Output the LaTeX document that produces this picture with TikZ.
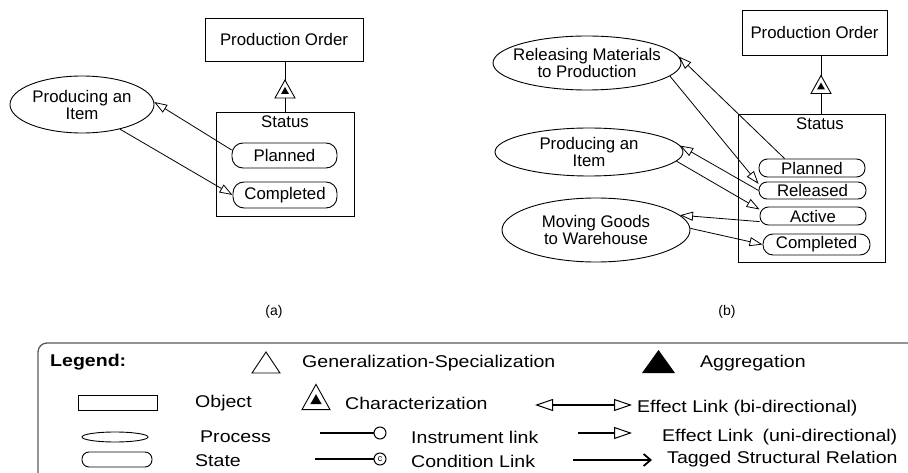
\documentclass[tikz,border=0pt]{standalone}
\usepackage{fontspec}
\setmainfont{Liberation Sans}
\newfontfamily\legfont[FakeStretch=1.15]{Liberation Sans}
\usetikzlibrary{arrows.meta,shapes.geometric,calc}

\begin{document}
\begin{tikzpicture}[x=1pt,y=-1pt,
  every node/.style={font=\fontsize{16.8}{17}\selectfont},
  obj/.style={draw, rectangle, inner sep=0pt, line width=0.9pt},
  stat/.style={draw, rectangle, inner sep=0pt, line width=0.9pt},
  proc/.style={draw, ellipse, inner sep=0pt, line width=0.9pt},
  ptext/.style={align=center, font=\fontsize{16.8}{17}\selectfont},
  effect/.style={line width=0.8pt, -{Triangle[open,length=13pt,width=9pt]}},
  lbl/.style={font=\legfont\fontsize{17}{19}\selectfont, anchor=west, inner sep=0pt},
  charsym/.pic={
    \draw[line width=0.9pt, fill=white] (-10,9) -- (0,-9) -- (10,9) -- cycle;
    \fill (-4,5) -- (0,-2) -- (4,5) -- cycle;
  }
]
\useasboundingbox (0,0) rectangle (908,473);

% ---------- (a) ----------
\node[obj, minimum width=158pt, minimum height=43pt] (poa) at (284,39.5) {Production Order};
\node[obj, minimum width=138pt, minimum height=104pt] (sta) at (285,164) {};
\node (sta-t) at (285,122) {Status};
\node[stat, rounded corners=11pt, minimum width=105pt, minimum height=25pt] (pla) at (284.5,155.5) {Planned};
\node[stat, rounded corners=11pt, minimum width=104pt, minimum height=26pt] (coa) at (285,195) {Completed};
\node[proc, minimum width=144pt, minimum height=57pt,
      label={[ptext]center:Producing an\\Item}] (pia) at (82,104.5) {};

\draw[line width=0.9pt] (sta.north |- poa.south) -- (sta.north);
\pic at (285,89) {charsym};

\draw[effect] (pla.174) -- (pia.2);
\draw[effect] (pia.-33) -- (coa.west);

\node[font=\fontsize{14}{16}\selectfont] (lab-a) at (274,312) {(a)};

% ---------- (b) ----------
\node[obj, minimum width=145pt, minimum height=45pt] (pob) at (814.5,32.5) {Production Order};
\node[obj, minimum width=147pt, minimum height=148pt] (stb) at (811.5,188) {};
\node (stb-t) at (820,124) {Status};
\node[stat, rounded corners=8.5pt, minimum width=106pt, minimum height=18pt] (plb) at (812,168) {Planned};
\node[stat, rounded corners=8pt, minimum width=107pt, minimum height=17pt] (rlb) at (812.5,190.5) {Released};
\node[stat, rounded corners=8.5pt, minimum width=106pt, minimum height=18pt] (acb) at (813,216) {Active};
\node[stat, rounded corners=10pt, minimum width=107pt, minimum height=21pt] (cob) at (816.5,244.5) {Completed};

\node[proc, minimum width=188pt, minimum height=54pt,
      label={[ptext]center:Releasing Materials\\to Production}] (rmb) at (587,63) {};
\node[proc, minimum width=188pt, minimum height=48pt,
      label={[ptext]center:Producing an\\Item}] (pib) at (589,152) {};
\node[proc, minimum width=188pt, minimum height=64pt,
      label={[ptext]center:Moving Goods\\to Warehouse}] (mgb) at (596,230) {};

\coordinate (stb-top) at ($(stb.north)+(9.5,0)$);
\draw[line width=0.9pt] (stb-top |- pob.south) -- (stb-top);
\pic at (821,84.5) {charsym};

\draw[effect] (plb.161.6) -- (rmb.4);
\draw[effect] (rmb.-9) -- (rlb.173.8);
\draw[effect] (rlb.west) -- (pib.4);
\draw[effect] (pib.-6) -- (acb.173);
\draw[effect] (acb.186) -- (mgb.10);
\draw[effect] (mgb.1) -- (cob.west);

\node[font=\fontsize{14}{16}\selectfont] (lab-b) at (727,312) {(b)};

% ---------- legend ----------
\draw[line width=1.3pt, draw=black!65, rounded corners=9pt] (38,473) -- (38,343) -- (908,343);
\node[lbl, font=\legfont\bfseries\fontsize{17}{19}\selectfont] (lg) at (50,362) {Legend:};

% generalization / aggregation / characterization symbols
\draw[line width=0.9pt] (252,373) -- (266,352) -- (280,373) -- cycle;
\node[lbl] (l-gen) at (302,363) {Generalization-Specialization};
\fill (642,373) -- (658.5,350) -- (675,373) -- cycle;
\node[lbl] (l-agg) at (700,363) {Aggregation};

\draw[line width=0.9pt] (78,395) rectangle (157,410);
\node[lbl] (l-obj) at (195,403) {Object};
\pic[scale=1.4] at (316,397) {charsym};
\node[lbl] (l-chr) at (345,403) {Characterization};
\draw[line width=1.6pt, {Triangle[open,length=18pt,width=12pt,line width=1pt]}-{Triangle[open,length=18pt,width=12pt,line width=1pt]}] (535,405) -- (632,405);
\node[lbl] (l-bi) at (637,408) {Effect Link (bi-directional)};

\draw[line width=0.9pt] (115,437) ellipse [x radius=33pt, y radius=5pt];
\node[lbl] (l-proc) at (200,437) {Process};
\draw[line width=1.2pt] (320,433) -- (374,433);
\draw[line width=1pt, fill=white] (380,433) circle [radius=6pt];
\node[lbl] (l-ins) at (411,437) {Instrument link};
\draw[line width=1.6pt, -{Triangle[open,length=18pt,width=12pt,line width=1pt]}] (578,433) -- (632,433);
\node[lbl] (l-uni) at (662,437) {Effect Link\hspace{4pt} (uni-directional)};

\draw[line width=0.9pt, rounded corners=7pt] (82,452) rectangle (152,467);
\node[lbl] (l-st) at (195,461) {State};
\draw[line width=1.2pt] (315,459) -- (374,459);
\draw[line width=1pt, fill=white] (380,459) circle [radius=6pt];
\node[font=\fontsize{9}{9}\selectfont, inner sep=0pt] (l-c) at (380,459) {c};
\node[lbl] (l-cond) at (411,461) {Condition Link};
\draw[line width=1.8pt, -{Straight Barb[length=7pt,width=12pt]}] (573,460) -- (652,460);
\node[lbl] (l-tag) at (667,459) {Tagged Structural Relation};

\end{tikzpicture}
\end{document}
